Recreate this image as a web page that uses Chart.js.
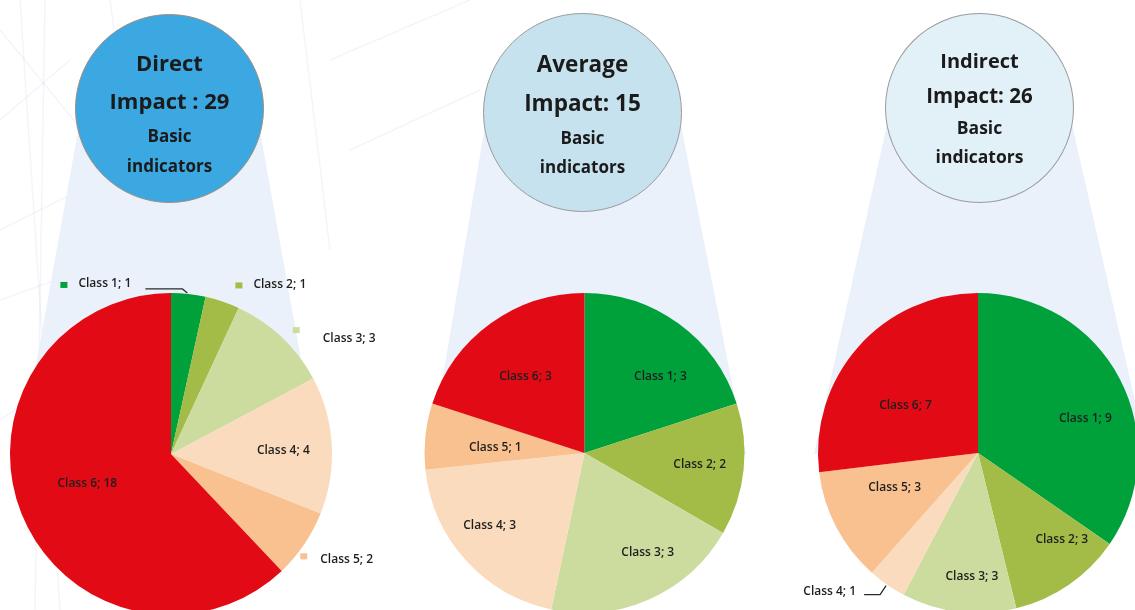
<!DOCTYPE html>
<html>
<head>
<meta charset="utf-8">
<script src="https://cdn.jsdelivr.net/npm/chart.js@4.4.1/dist/chart.umd.min.js"></script>
<style>
  html, body { margin: 0; padding: 0; }
  body { width: 1135px; height: 610px; overflow: hidden; position: relative; background: #fff; font-family: 'Open Sans', sans-serif; }
  #bg { position: absolute; left: 0; top: 0; }
  .bubble { position: absolute; border-radius: 50%; box-sizing: border-box; border: 1px solid #9a9a9a; }
  .line { position: absolute; left: 0; right: 0; text-align: center; font-weight: bold; color: #1b1b1b; white-space: nowrap; line-height: 1; }
  .pie { position: absolute; }
</style>
</head>
<body>
<canvas id="bg" width="1135" height="610"></canvas>

<canvas class="pie" id="pieDirect" width="400" height="345" style="left:0px;top:270px"></canvas>
<canvas class="pie" id="pieAverage" width="380" height="343" style="left:400px;top:270px"></canvas>
<canvas class="pie" id="pieIndirect" width="380" height="343" style="left:770px;top:270px"></canvas>

<div class="bubble" id="b1" style="left:75px;top:14px;width:189px;height:189px;background:#3BA8E1;border-color:#a08c80"></div>
<div class="bubble" id="b2" style="left:483px;top:13px;width:199px;height:199px;background:#C6E2EE"></div>
<div class="bubble" id="b3" style="left:885px;top:13px;width:189px;height:190px;background:#E2F0F8"></div>

<script>
// categories
var classes = ['Class 1', 'Class 2', 'Class 3', 'Class 4', 'Class 5', 'Class 6'];
// number of basic indicators per class
var directValues = [1, 1, 3, 4, 2, 18];
var averageValues = [3, 2, 3, 3, 1, 3];
var indirectValues = [9, 3, 3, 1, 3, 7];
var classColors = ['#00A13B', '#A3BC48', '#CCDC9E', '#FBDBBE', '#F8C18F', '#E20A14'];

function total(arr) {
    return arr.reduce(function (a, b) { return a + b; }, 0);
}

// background: faint building lines and the light "zoom" cones
var bg = document.getElementById('bg').getContext('2d');
bg.fillStyle = '#ffffff';
bg.fillRect(0, 0, 1135, 610);
bg.strokeStyle = 'rgba(160,180,210,0.13)';
bg.lineWidth = 1.5;
[
    [0, 30, 90, 140], [0, 120, 70, 60], [20, 0, 60, 610], [45, 0, 35, 610],
    [0, 230, 120, 170], [0, 300, 140, 250], [110, 0, 150, 300], [300, 0, 330, 250],
    [330, 60, 470, 0], [350, 150, 480, 90], [0, 420, 60, 380]
].forEach(function (l) {
    bg.beginPath();
    bg.moveTo(l[0], l[1]);
    bg.lineTo(l[2], l[3]);
    bg.stroke();
});
bg.fillStyle = '#EAF1FA';
[
    [[80, 120], [258, 120], [318, 454], [20, 454]],
    [[486, 120], [680, 120], [746, 454], [430, 454]],
    [[888, 120], [1071, 120], [1147, 454], [814, 454]]
].forEach(function (poly) {
    bg.beginPath();
    bg.moveTo(poly[0][0], poly[0][1]);
    for (var i = 1; i < poly.length; i++) bg.lineTo(poly[i][0], poly[i][1]);
    bg.closePath();
    bg.fill();
});

// texts in the bubbles
function bubbleText(id, lines) {
    var el = document.getElementById(id);
    lines.forEach(function (l) {
        var d = document.createElement('div');
        d.className = 'line';
        d.textContent = l[0];
        d.style.fontSize = l[1] + 'px';
        d.style.top = (l[2] - el.offsetTop - l[1] / 2 - 1) + 'px';
        el.appendChild(d);
    });
}
bubbleText('b1', [['Direct', 22, 62], ['Impact : ' + total(directValues), 22, 100], ['Basic', 17, 135], ['indicators', 17, 165]]);
bubbleText('b2', [['Average', 22.5, 64], ['Impact: ' + total(averageValues), 22.5, 103], ['Basic', 17, 137], ['indicators', 17, 166]]);
bubbleText('b3', [['Indirect', 20, 61], ['Impact: ' + total(indirectValues), 20.5, 95], ['Basic', 17.5, 128], ['indicators', 17.5, 157]]);

// slice labels "Class n; v", inside or outside with a key square / leader line
var sliceLabels = {
    id: 'sliceLabels',
    afterDatasetsDraw: function (chart, args, opts) {
        var ctx = chart.ctx;
        var ds = chart.data.datasets[0];
        var meta = chart.getDatasetMeta(0);
        ctx.save();
        ctx.font = '600 12px "Open Sans"';
        ctx.fillStyle = '#1e1e1e';
        ctx.textBaseline = 'middle';
        meta.data.forEach(function (arc, i) {
            var p = arc.getProps(['x', 'y', 'startAngle', 'endAngle', 'outerRadius'], true);
            var mid = (p.startAngle + p.endAngle) / 2;
            var text = chart.data.labels[i] + '; ' + ds.data[i];
            var out = (opts.outside || {})[i];
            if (out) {
                var ax = p.x + Math.cos(mid) * p.outerRadius;
                var ay = p.y + Math.sin(mid) * p.outerRadius;
                if (out.key) {
                    ctx.fillStyle = ds.backgroundColor[i];
                    ctx.fillRect(ax + out.key[0], ay + out.key[1], 7, 6);
                }
                ctx.fillStyle = '#1e1e1e';
                ctx.textAlign = out.align || 'left';
                ctx.fillText(text, ax + out.text[0], ay + out.text[1]);
                if (out.leader) {
                    ctx.strokeStyle = '#2a2a2a';
                    ctx.lineWidth = 1.3;
                    ctx.beginPath();
                    out.leader.forEach(function (pt, k) {
                        if (k === 0) ctx.moveTo(ax + pt[0], ay + pt[1]);
                        else ctx.lineTo(ax + pt[0], ay + pt[1]);
                    });
                    ctx.stroke();
                }
            } else {
                var n = (opts.nudge || [])[i] || [0, 0];
                var d = p.outerRadius * 0.68;
                ctx.textAlign = 'center';
                ctx.fillText(text, p.x + Math.cos(mid) * d + n[0], p.y + Math.sin(mid) * d + n[1]);
            }
        });
        ctx.restore();
    }
};

function makePie(id, values, padding, labelOpts) {
    var ctx = document.getElementById(id).getContext('2d');
    return new Chart(ctx, {
        type: 'pie',
        data: {
            labels: classes,
            datasets: [{
                data: values,
                backgroundColor: classColors,
                borderWidth: 0
            }]
        },
        options: {
            responsive: false,
            animation: false,
            layout: { padding: padding },
            plugins: {
                legend: { display: false },
                tooltip: { enabled: false },
                sliceLabels: labelOpts
            }
        },
        plugins: [sliceLabels]
    });
}

var directChart = makePie('pieDirect', directValues, { left: 10, right: 68, top: 23, bottom: 0 }, {
    outside: {
        0: { key: [-128, -12], text: [-110, -10], leader: [[-43, -5], [-6, -5], [-1, -1]] },
        1: { key: [13, -19], text: [31, -17] },
        2: { key: [11, -10], text: [41, 1] },
        4: { key: [-4, 9], text: [16, 15] }
    },
    nudge: [null, null, null, [3, 3], null, [18, -11]]
});

var averageChart = makePie('pieAverage', averageValues, { left: 24.5, right: 35.5, top: 23, bottom: 0 }, {
    nudge: [[12, 12], [7, 0], [19, 0], [-14, 0], [19, 6], [5, 12]]
});

var indirectChart = makePie('pieIndirect', indirectValues, { left: 48, right: 12, top: 23, bottom: 0 }, {
    outside: {
        3: { text: [-31, 7], align: 'right', leader: [[-23, 10], [-7, 10], [-1, 1]] }
    },
    nudge: [[11, 16], [22, -3], [7, 16], null, [13, -16], [9, 25]]
});
</script>
</body>
</html>
